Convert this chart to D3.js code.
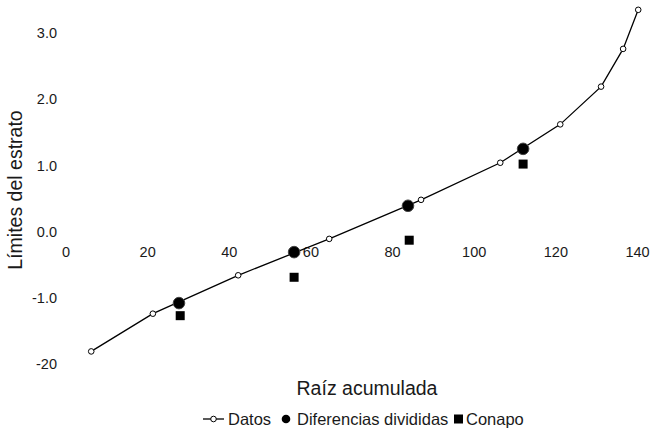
<!DOCTYPE html>
<html>
<head>
<meta charset="utf-8">
<script src="https://cdn.jsdelivr.net/npm/d3@7"></script>
<style>
  html, body { margin: 0; padding: 0; background: #fff; }
  svg { display: block; font-family: "Liberation Sans", Arial, sans-serif; }
</style>
</head>
<body>
<svg id="chart" width="651" height="433"></svg>
<script>
// ---- data ----
const datosX = [6.3, 21.4, 42.3, 64.6, 87.1, 106.5, 121.2, 131.2, 136.6, 140.3];
const datosY = [-1.81, -1.24, -0.66, -0.11, 0.48, 1.04, 1.62, 2.19, 2.76, 3.35];
const difX = [27.8, 56.0, 83.9, 112.1];
const difY = [-1.08, -0.31, 0.39, 1.25];
const conapoX = [28.1, 56.0, 84.2, 112.1];
const conapoY = [-1.27, -0.69, -0.13, 1.02];
const xTicks = [0, 20, 40, 60, 80, 100, 120, 140];
const yTicks = [-2, -1, 0, 1, 2, 3];
const yTickLabels = ["-20", "-1.0", "0.0", "1.0", "2.0", "3.0"];
const seriesNames = ["Datos", "Diferencias divididas", "Conapo"];
const xTitle = "Raíz acumulada";
const yTitle = "Límites del estrato";

// ---- chart ----
const svg = d3.select("#chart");
const x = d3.scaleLinear().domain([0, 140]).range([65.5, 637]);
const y = d3.scaleLinear().domain([-2, 3]).range([364, 33]);

// x axis (no line, labels below zero)
const xAxis = svg.append("g")
  .attr("transform", `translate(0,${y(0) + 15})`)
  .call(d3.axisBottom(x).tickValues(xTicks).tickSize(0).tickPadding(0).tickFormat(d3.format("d")));
xAxis.select(".domain").remove();
xAxis.selectAll("text").attr("font-size", 14.5).attr("fill", "#1a1a1a")
  .attr("font-family", "Liberation Sans, Arial, sans-serif");

// y axis
const yAxis = svg.append("g")
  .attr("transform", `translate(57,0)`)
  .call(d3.axisLeft(y).tickValues(yTicks).tickSize(0).tickPadding(0)
    .tickFormat((d, i) => yTickLabels[i]));
yAxis.select(".domain").remove();
yAxis.selectAll("text").attr("font-size", 14.5).attr("fill", "#1a1a1a")
  .attr("font-family", "Liberation Sans, Arial, sans-serif");

// titles
svg.append("text").attr("x", 367).attr("y", 395).attr("text-anchor", "middle")
  .attr("font-size", 19.5).attr("fill", "#1a1a1a").text(xTitle);
svg.append("text").attr("transform", `translate(22,190) rotate(-90)`).attr("text-anchor", "middle")
  .attr("font-size", 19.5).attr("fill", "#1a1a1a").text(yTitle);

// line
const datos = datosX.map((v, i) => [v, datosY[i]]);
svg.append("path").datum(datos)
  .attr("fill", "none").attr("stroke", "#000").attr("stroke-width", 1.3)
  .attr("d", d3.line().x(d => x(d[0])).y(d => y(d[1])));

svg.selectAll(".datos").data(datos).join("circle")
  .attr("cx", d => x(d[0])).attr("cy", d => y(d[1])).attr("r", 2.8)
  .attr("fill", "#fff").attr("stroke", "#000").attr("stroke-width", 1);

// conapo squares
const conapo = conapoX.map((v, i) => [v, conapoY[i]]);
svg.selectAll(".conapo").data(conapo).join("rect")
  .attr("x", d => x(d[0]) - 4.5).attr("y", d => y(d[1]) - 4.5)
  .attr("width", 9).attr("height", 9).attr("fill", "#000");

// diferencias divididas
const dif = difX.map((v, i) => [v, difY[i]]);
svg.selectAll(".dif").data(dif).join("circle")
  .attr("cx", d => x(d[0])).attr("cy", d => y(d[1])).attr("r", 5.8)
  .attr("fill", "#000").attr("stroke", "#444").attr("stroke-width", 1);

// legend
const lg = svg.append("g").attr("font-size", 16.5).attr("fill", "#1a1a1a");
const ly = 419;
lg.append("line").attr("x1", 203).attr("x2", 224).attr("y1", ly).attr("y2", ly)
  .attr("stroke", "#000").attr("stroke-width", 1.3);
lg.append("circle").attr("cx", 213.5).attr("cy", ly).attr("r", 2.8)
  .attr("fill", "#fff").attr("stroke", "#000");
lg.append("text").attr("x", 228).attr("y", ly).attr("dy", "0.35em").text(seriesNames[0]);
lg.append("circle").attr("cx", 286).attr("cy", ly).attr("r", 4.3).attr("fill", "#000");
lg.append("text").attr("x", 297).attr("y", ly).attr("dy", "0.35em").text(seriesNames[1]);
lg.append("rect").attr("x", 454).attr("y", ly - 4.5).attr("width", 9).attr("height", 9).attr("fill", "#000");
lg.append("text").attr("x", 466).attr("y", ly).attr("dy", "0.35em").text(seriesNames[2]);
</script>
</body>
</html>
